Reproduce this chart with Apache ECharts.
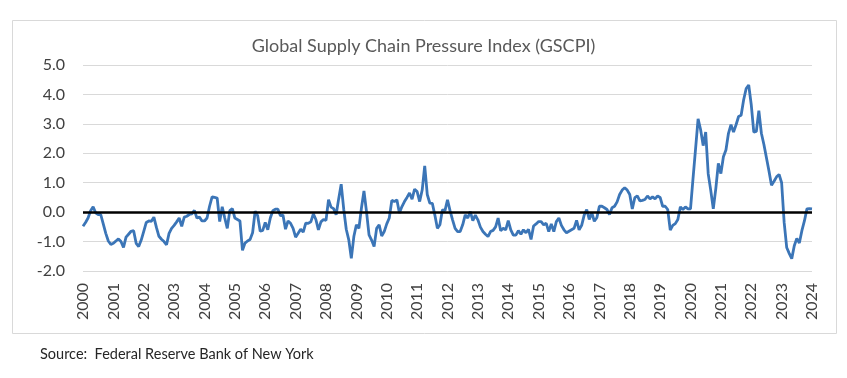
<!DOCTYPE html>
<html><head><meta charset="utf-8">
<script src="https://cdn.jsdelivr.net/npm/echarts@6/dist/echarts.min.js"></script>
<style>html,body{margin:0;padding:0;background:#fff}#c{width:847px;height:378px}</style>
</head><body><div id="c"></div>
<script>
const title = 'Global Supply Chain Pressure Index (GSCPI)';
const source = 'Source:  Federal Reserve Bank of New York';
const startYear = 2000;
const endYear = 2024;
const yMin = -2, yMax = 5, yStep = 1;
// Monthly GSCPI values, Jan 2000 .. Jan 2024
const gscpi = [
 -0.48,-0.35,-0.2,0.05,0.18,-0.02,-0.08,-0.08,-0.4,-0.72,-0.98,-1.1,
 -1.06,-0.98,-0.91,-1.0,-1.2,-0.85,-0.75,-0.65,-0.63,-1.06,-1.17,-0.95,
 -0.65,-0.35,-0.3,-0.31,-0.17,-0.52,-0.82,-0.92,-1.0,-1.11,-0.72,-0.55,
 -0.45,-0.33,-0.2,-0.48,-0.17,-0.14,-0.08,-0.06,0.06,-0.2,-0.17,-0.3,
 -0.3,-0.2,0.2,0.52,0.5,0.48,-0.32,0.18,-0.2,-0.55,0.05,0.12,
 -0.2,-0.25,-0.3,-1.3,-1.05,-0.98,-0.93,-0.7,0.03,-0.12,-0.65,-0.62,
 -0.35,-0.6,-0.2,0.05,0.1,0.1,-0.12,-0.1,-0.58,-0.3,-0.38,-0.55,
 -0.85,-0.72,-0.58,-0.68,-0.37,-0.38,-0.33,-0.06,-0.25,-0.6,-0.33,-0.25,
 -0.28,0.42,0.17,0.12,-0.09,0.45,0.95,0.1,-0.58,-0.94,-1.57,-0.83,
 -0.43,-0.55,0.14,0.72,0.02,-0.77,-0.95,-1.17,-0.55,-0.43,-0.81,-0.66,
 -0.4,-0.2,0.4,0.36,0.42,-0.03,0.19,0.36,0.5,0.65,0.44,0.78,
 0.7,0.36,0.75,1.57,0.6,0.31,0.3,-0.1,-0.55,-0.43,0.08,0.05,
 0.42,0.05,-0.26,-0.55,-0.66,-0.66,-0.43,-0.09,-0.2,0.02,-0.29,-0.1,
 -0.26,-0.51,-0.66,-0.75,-0.83,-0.66,-0.62,-0.5,-0.2,-0.63,-0.55,-0.6,
 -0.29,-0.6,-0.78,-0.78,-0.63,-0.75,-0.6,-0.7,-0.58,-0.93,-0.47,-0.4,
 -0.32,-0.32,-0.43,-0.38,-0.66,-0.4,-0.66,-0.32,-0.2,-0.45,-0.6,-0.7,
 -0.65,-0.6,-0.55,-0.28,-0.6,-0.45,-0.1,0.09,-0.25,-0.02,-0.31,-0.19,
 0.2,0.2,0.15,0.09,-0.08,0.15,0.2,0.35,0.6,0.75,0.83,0.75,
 0.6,0.11,0.49,0.55,0.38,0.4,0.43,0.55,0.45,0.52,0.45,0.55,
 0.5,0.2,0.2,0.09,-0.61,-0.45,-0.39,-0.25,0.18,0.09,0.18,0.11,
 0.11,1.15,2.15,3.17,2.8,2.26,2.72,1.3,0.74,0.11,0.8,1.66,
 1.31,1.88,2.11,2.68,2.97,2.72,2.97,3.25,3.29,3.82,4.2,4.32,
 3.65,2.72,2.74,3.45,2.68,2.3,1.85,1.4,0.91,1.05,1.2,1.28,
 1.0,-0.35,-1.2,-1.4,-1.58,-1.14,-0.89,-1.05,-0.63,-0.3,0.11,0.12,
 0.11
];
const months = [];
for (let y = startYear; y <= endYear; y++) {
  for (let m = 1; m <= 12; m++) {
    if (months.length < gscpi.length) months.push(y + '-' + String(m).padStart(2, '0'));
  }
}
const FONT = 'Lato, "Open Sans", sans-serif';
const chart = echarts.init(document.getElementById('c'), null, {renderer: 'canvas'});
chart.setOption({
  animation: false,
  backgroundColor: '#ffffff',
  title: {
    text: title, left: 'center', top: 32,
    textStyle: {fontFamily: FONT, fontSize: 18, fontWeight: 'normal', color: '#595959'}
  },
  grid: {left: 83, right: 35, top: 65, bottom: 107, containLabel: false},
  xAxis: {
    type: 'category', data: months, boundaryGap: false,
    axisLine: {show: false}, axisTick: {show: false}, splitLine: {show: false},
    axisLabel: {
      interval: (i) => i % 12 === 0,
      formatter: (v) => v.slice(0, 4),
      rotate: 90, margin: 12, color: '#404040', fontSize: 16, fontFamily: FONT
    }
  },
  yAxis: {
    type: 'value', min: yMin, max: yMax, interval: yStep,
    axisLine: {show: false}, axisTick: {show: false},
    splitLine: {lineStyle: {color: '#d9d9d9', width: 1}},
    axisLabel: {formatter: (v) => v.toFixed(1), color: '#404040', fontSize: 16, fontFamily: FONT, margin: 18}
  },
  series: [{
    type: 'line', data: gscpi, showSymbol: false, symbol: 'none',
    lineStyle: {color: '#3b75b7', width: 2.8}, z: 3,
    markLine: {
      silent: true, symbol: 'none', z: 4,
      label: {show: false},
      lineStyle: {color: '#000000', width: 2.5, type: 'solid'},
      data: [{yAxis: 0}]
    }
  }],
  graphic: [
    {type: 'rect', shape: {x: 12.5, y: 20.5, width: 824, height: 313}, style: {fill: 'none', stroke: '#d9d9d9', lineWidth: 1}, z: -1},
    {type: 'text', left: 40, top: 347, style: {text: source, font: '14.5px ' + FONT, fill: '#262626'}}
  ]
});
</script></body></html>
